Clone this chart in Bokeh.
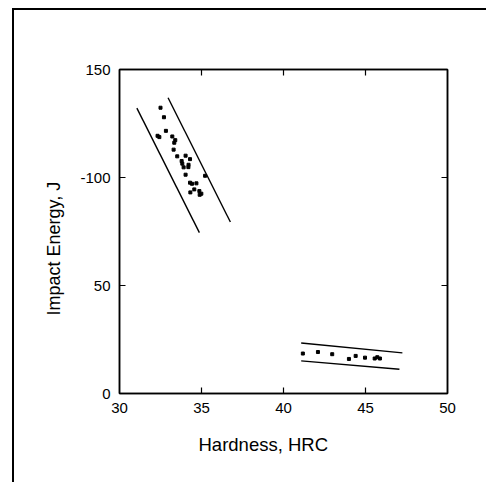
import numpy as np
from bokeh.plotting import figure
from bokeh.models import Range1d, LinearAxis, FixedTicker, Title, CustomJSTickFormatter
from bokeh.embed import file_html
from bokeh.resources import INLINE

# ---- data ----
x_ticks = [30, 35, 40, 45, 50]
y_ticks = [0, 50, 100, 150]
y_tick_text = {0: "0", 50: "50", 100: "-100", 150: "150"}

# cluster at low hardness (~32-35 HRC)
hrc_low = [32.50, 32.71, 32.83, 32.32, 32.43, 33.22, 33.40, 33.34, 33.30, 33.52,
           34.03, 34.30, 33.79, 33.83, 33.91, 34.21, 34.20, 34.03, 35.22, 34.30,
           34.42, 34.69, 34.32, 34.56, 34.87, 34.89, 34.99]
energy_low = [132.3, 127.9, 121.6, 119.3, 118.7, 119.0, 117.3, 116.1, 112.9, 109.8,
              110.1, 108.5, 107.6, 106.4, 104.7, 105.9, 104.8, 101.3, 100.8, 97.6,
              97.1, 97.3, 93.1, 94.5, 93.7, 92.0, 92.5]

# cluster at high hardness (~41-46 HRC)
hrc_high = [41.18, 42.10, 42.97, 43.99, 44.40, 44.97, 45.56, 45.72, 45.88]
energy_high = [18.5, 19.2, 18.2, 16.0, 17.4, 16.6, 16.2, 16.8, 16.2]

# scatter-band boundary lines
band1_lo_x = [31.06, 34.87]
band1_lo_y = [132.1, 74.5]
band1_hi_x = [32.96, 36.76]
band1_hi_y = [136.9, 79.4]
band2_hi_x = [41.08, 47.25]
band2_hi_y = [23.4, 18.8]
band2_lo_x = [41.08, 47.07]
band2_lo_y = [15.1, 11.2]

x_title = "Hardness, HRC"
y_title = "Impact Energy, J"

FONT = "Liberation Sans"
X0, X1 = 30, 50
Y0, Y1 = 0, 150

p = figure(width=474, height=474, output_backend="svg", toolbar_location=None,
           x_range=Range1d(X0, X1), y_range=Range1d(Y0, Y1),
           min_border_left=105, min_border_right=41, min_border_top=59, min_border_bottom=91,
           background_fill_color="white", border_fill_color="white",
           outline_line_color="black", outline_line_width=1.5)
p.styles = {"margin-left": "12px", "margin-top": "8px",
            "border-left": "2px solid black", "border-top": "2px solid black"}
p.grid.visible = False

for ax in [p.xaxis[0], p.yaxis[0]]:
    ax.major_tick_in = 0
    ax.major_tick_out = 0
    ax.minor_tick_line_color = None
    ax.axis_line_width = 1.5
    ax.major_label_text_font = FONT
    ax.major_label_text_font_size = "15px"
    ax.major_label_text_color = "black"
    ax.major_label_standoff = 9

p.xaxis[0].ticker = FixedTicker(ticks=x_ticks)
p.yaxis[0].ticker = FixedTicker(ticks=y_ticks)
p.yaxis[0].major_label_overrides = y_tick_text

blank = CustomJSTickFormatter(code="return ''")
top = LinearAxis(ticker=FixedTicker(ticks=x_ticks), formatter=blank,
                 major_tick_in=0, major_tick_out=0, minor_tick_line_color=None,
                 axis_line_width=1.5)
right = LinearAxis(ticker=FixedTicker(ticks=y_ticks), formatter=blank,
                   major_tick_in=0, major_tick_out=0, minor_tick_line_color=None,
                   axis_line_width=1.5)
p.add_layout(top, "above")
p.add_layout(right, "right")

# inward tick marks on all four sides
tick_len = 6
inner_x = x_ticks[1:-1]
inner_y = y_ticks[1:-1]
p.ray(x=inner_x, y=[Y0] * len(inner_x), length=tick_len, length_units="screen",
      angle=np.pi / 2, line_color="black", line_width=1.2)
p.ray(x=inner_x, y=[Y1] * len(inner_x), length=tick_len, length_units="screen",
      angle=-np.pi / 2, line_color="black", line_width=1.2)
p.ray(x=[X0] * len(inner_y), y=inner_y, length=tick_len, length_units="screen",
      angle=0, line_color="black", line_width=1.2)
p.ray(x=[X1] * len(inner_y), y=inner_y, length=tick_len, length_units="screen",
      angle=np.pi, line_color="black", line_width=1.2)

for xs, ys in [(band1_lo_x, band1_lo_y), (band1_hi_x, band1_hi_y),
               (band2_hi_x, band2_hi_y), (band2_lo_x, band2_lo_y)]:
    p.line(xs, ys, line_color="black", line_width=1.4)

p.scatter(hrc_low, energy_low, marker="square", size=3, color="black")
p.scatter(hrc_high, energy_high, marker="square", size=3, color="black")

p.add_layout(Title(text=x_title, align="left", offset=79, standoff=32,
                   text_font=FONT, text_font_size="18.5px", text_font_style="normal",
                   text_color="black"), "below")
p.add_layout(Title(text=y_title, align="left", offset=78, standoff=27,
                   text_font=FONT, text_font_size="18px", text_font_style="normal",
                   text_color="black"), "left")

open("out.html", "w").write(file_html(p, INLINE))
